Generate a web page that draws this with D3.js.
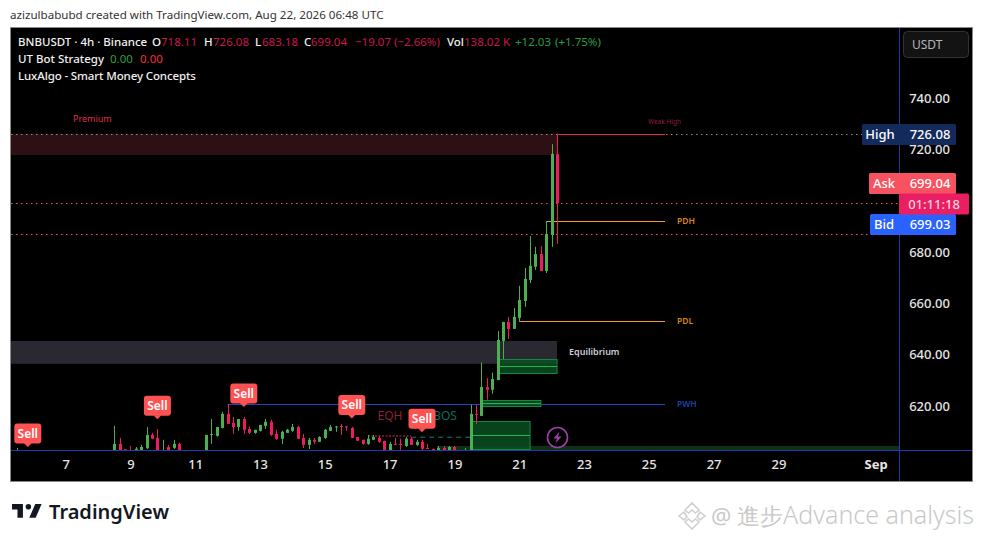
<!DOCTYPE html>
<html>
<head>
<meta charset="utf-8">
<script src="https://d3js.org/d3.v7.min.js"></script>
<style>
  html, body { margin: 0; padding: 0; background: #fff; }
  svg { display: block; }
  text { font-family: "Noto Sans", sans-serif; }
</style>
</head>
<body>
<div id="chart"></div>
<script>
// bar number (4h bars), open, high, low, close
var barNo = [0,18,19,20,21,22,23,24,25,26,27,28,29,30,35,36,37,38,39,40,41,42,43,44,45,46,47,48,49,50,51,52,53,54,55,56,57,58,59,60,61,62,63,64,65,66,67,68,69,70,71,72,73,74,75,76,77,78,79,80,81,83,84,85,86,87,88,89,90,91,92,93,94,95,96,97,98,99,100];
var opens = [600,602,605.2,603.1,602,601,601,603.5,608.7,607.5,601,604,603.65,605.2,602,608.7,608.3,611.4,616.9,613.4,611.8,614.9,611,609.5,610.3,612.2,613.8,609.1,607.2,609.5,610.3,611.8,607.5,604.8,606.8,606,607.5,610.3,611.8,612.2,612,611.4,607.9,606.8,605.2,606.8,607.5,606.4,602,605.2,605.2,604.4,607.2,604.8,606,603.6,603.2,602,603.6,602,604,601,602,616.9,616.1,627.3,626.3,630.1,645.3,652.7,650,654.3,660.9,669.1,674.2,679.2,672.6,686.6,718.11];
var highs = [603.6,612.2,607.5,603.2,604.4,604,604.8,611.8,609.5,611,606.8,604.8,606.8,605.6,608.7,614.9,611.8,617.7,620.8,615.7,614.9,615.7,612,610.7,612.6,614.9,614.6,610.7,610.3,611,613,612.2,609.1,607.5,607.5,608.2,611,612.6,612.2,613,612.2,611.8,607.9,606.8,608.7,608.7,608.3,606.4,606,607.5,607.2,607.9,607.9,606.8,606.8,605.2,603.4,604.4,604.4,604.4,604.4,603.6,620.4,620.4,636.9,630.9,633,649.2,652.8,654.7,658.2,666.8,673.8,686.2,682,682.3,692,722,726.08];
var lows = [600,601,601,601,601,601,601,603.2,607,601,601,601,603.2,601,601,605.2,608,611.2,613,609.1,610.3,609.1,609.1,609.1,610,611,608.3,606.8,605.2,609.5,609.9,607.2,603.65,603.2,605.2,606,607.2,610.3,609.9,608.7,610.3,607.5,606.4,604.8,604.8,606.8,605.6,601,601,604.8,601,604,604.8,604.4,602,603.2,602.8,601,601,601,601,601,601,613,616,622.4,624.7,630,638.3,646.1,650,653.1,658.6,667.9,673,672.6,671.8,682,683.18];
var closes = [602,605.2,602,602,601,603.3,604,608.7,607.2,602,601.5,602,605.2,602,608.7,609,611.8,616.9,613,611.8,614.9,610.7,609.5,610.7,612.6,613.8,608.7,607.2,609.9,610.7,611.8,607.2,604.8,606.8,606,607.9,610.7,611.8,612,612,611.8,607.5,606.4,605.2,607.2,607.9,606,602,605.2,605,605,607.2,604.8,606,603.3,603.4,603,603.6,602,604,602,602,616.9,616.6,627.4,626.3,630.5,645.7,652.7,650,654.7,661.3,669.5,674.6,679.2,672.6,687,718.2,699.04];

var priceTicks = [740, 720, 680, 660, 640, 620];
var timeTickBars = [9, 21, 33, 45, 57, 69, 81, 93, 105, 117, 129, 141, 159];
var timeTickLabels = ["7", "9", "11", "13", "15", "17", "19", "21", "23", "25", "27", "29", "Sep"];

var sellBars = [2, 26, 42, 62, 75];
var sellPrices = [604, 614.8, 619.6, 615.1, 609.7];

var dottedLevels = [699.04, 686.9];
var highLevel = 726.08;

var zoneNames = ["premium", "equilibrium", "discount"];
var zoneTops = [726.08, 645.3, 604.4];
var zoneBottoms = [717.8, 636.4, 602.5];

var blockStart = [84, 89, 86];
var blockEnd = [95, 100, 97];
var blockTop = [614.2, 638.2, 622.4];
var blockMid = [608.6, 635.6, 621.2];
var blockBottom = [603.4, 632.6, 620.1];

var levelNames = ["PWH", "PDH", "PDL"];
var levelPrices = [620.7, 692, 653];
var levelStart = [39, 98, 93];
var levelEnd = 120;

var svgWidth = 983;
var svgHeight = 542;

var frame = { left: 11, top: 28, right: 972, bottom: 481 };
var paneRight = 899;
var paneBottom = 451;

var svg = d3.select("#chart").append("svg")
  .attr("width", svgWidth)
  .attr("height", svgHeight);

var x = d3.scaleLinear().domain([0, 100]).range([17, 557]);
var y = d3.scaleLinear().domain([740, 620]).range([98, 405.9]);

var upColor = "#4caf50";
var downColor = "#ec1b62";

// header line
svg.append("text").attr("x", 10).attr("y", 19)
  .attr("font-size", 11.6).attr("fill", "#333")
  .text("azizulbabubd created with TradingView.com, Aug 22, 2026 06:48 UTC");

svg.append("rect")
  .attr("x", frame.left - 0.5).attr("y", frame.top - 0.5)
  .attr("width", frame.right - frame.left + 1).attr("height", frame.bottom - frame.top + 1)
  .attr("fill", "#000").attr("stroke", "#8a8a8a");

svg.append("clipPath").attr("id", "pane").append("rect")
  .attr("x", frame.left).attr("y", frame.top)
  .attr("width", paneRight - frame.left).attr("height", paneBottom - frame.top);

var pane = svg.append("g").attr("clip-path", "url(#pane)");

// premium / equilibrium / discount
var zoneColors = ["#2e0f14", "#2a2830", "#0f2f17"];
var zoneLeft = [frame.left, frame.left, 437];
var zoneRight = [x(100), x(100), paneRight];
zoneNames.forEach(function(name, i) {
  pane.append("rect")
    .attr("x", zoneLeft[i]).attr("y", y(zoneTops[i]))
    .attr("width", zoneRight[i] - zoneLeft[i])
    .attr("height", y(zoneBottoms[i]) - y(zoneTops[i]))
    .attr("fill", zoneColors[i]);
});

// dotted price lines
dottedLevels.forEach(function(p) {
  pane.append("line")
    .attr("x1", frame.left).attr("x2", paneRight)
    .attr("y1", Math.round(y(p)) + 0.5).attr("y2", Math.round(y(p)) + 0.5)
    .attr("stroke", "#f7525f").attr("stroke-dasharray", "1.5 3.5");
});
pane.append("line")
  .attr("x1", frame.left).attr("x2", paneRight)
  .attr("y1", Math.round(y(highLevel)) + 0.5).attr("y2", Math.round(y(highLevel)) + 0.5)
  .attr("stroke", "#8d8d94").attr("stroke-dasharray", "1.5 3.5");

// structure lines
var levelColors = ["#1d47c4", "#f59a1c", "#f59a1c"];
levelNames.forEach(function(name, i) {
  var ly = Math.round(y(levelPrices[i])) + 0.5;
  pane.append("line")
    .attr("x1", x(levelStart[i])).attr("x2", x(levelEnd))
    .attr("y1", ly).attr("y2", ly)
    .attr("stroke", levelColors[i]);
  svg.append("text")
    .attr("x", x(levelEnd) + 12).attr("y", ly + 2.5)
    .attr("font-size", 8.5).attr("font-weight", 600)
    .attr("fill", name == "PWH" ? "#1a44a8" : "#d9860f")
    .text(name);
});

pane.append("line")
  .attr("x1", x(100)).attr("x2", x(levelEnd))
  .attr("y1", Math.round(y(highLevel)) + 0.5).attr("y2", Math.round(y(highLevel)) + 0.5)
  .attr("stroke", "#e8294e");

// EQH and BOS
pane.append("line")
  .attr("x1", x(65)).attr("x2", x(73))
  .attr("y1", y(608.3)).attr("y2", y(608.3))
  .attr("stroke", "#8c2235").attr("stroke-width", 1.5).attr("stroke-dasharray", "2 1.5");
pane.append("line")
  .attr("x1", x(73)).attr("x2", x(84))
  .attr("y1", y(607.8)).attr("y2", y(607.8))
  .attr("stroke", "#14806a").attr("stroke-dasharray", "5 4");

// order blocks
blockStart.forEach(function(s, i) {
  var g = pane.append("g");
  g.append("rect")
    .attr("x", x(s) + 0.5).attr("y", Math.round(y(blockTop[i])) + 0.5)
    .attr("width", Math.round(x(blockEnd[i]) - x(s)))
    .attr("height", Math.round(y(blockBottom[i]) - y(blockTop[i])))
    .attr("fill", "#0a4f22").attr("fill-opacity", 0.85)
    .attr("stroke", "#128a3e");
  g.append("line")
    .attr("x1", x(s)).attr("x2", x(blockEnd[i]))
    .attr("y1", Math.round(y(blockMid[i])) + 0.5).attr("y2", Math.round(y(blockMid[i])) + 0.5)
    .attr("stroke", "#1bb552");
});

// candles
var candles = barNo.map(function(n, i) {
  return { n: n, o: opens[i], h: highs[i], l: lows[i], c: closes[i] };
});

var candle = pane.selectAll("g.candle").data(candles).enter().append("g")
  .attr("class", "candle");

candle.append("line")
  .attr("x1", d => Math.round(x(d.n)) + 0.5)
  .attr("x2", d => Math.round(x(d.n)) + 0.5)
  .attr("y1", d => y(d.h))
  .attr("y2", d => y(d.l))
  .attr("stroke", d => d.c >= d.o ? upColor : downColor);

candle.append("rect")
  .attr("x", d => Math.round(x(d.n)) - 1)
  .attr("width", 3)
  .attr("y", d => y(Math.max(d.o, d.c)))
  .attr("height", d => Math.max(1, Math.abs(y(d.o) - y(d.c))))
  .attr("fill", d => d.c >= d.o ? upColor : downColor);

// price axis
var priceAxis = d3.axisRight(y).tickValues(priceTicks).tickSize(0)
  .tickFormat(d3.format(".2f"));
var priceG = svg.append("g")
  .attr("transform", "translate(" + paneRight + ",0)")
  .call(priceAxis);
priceG.select(".domain").remove();
priceG.selectAll("text")
  .attr("x", 30.5).attr("text-anchor", "middle")
  .attr("font-size", 13).attr("font-family", "Noto Sans").attr("font-weight", 500).attr("fill", "#e6e6e6");

// time axis
var timeAxis = d3.axisBottom(x).tickValues(timeTickBars).tickSize(0)
  .tickFormat(function(d) { return timeTickLabels[timeTickBars.indexOf(d)]; });
var timeG = svg.append("g")
  .attr("transform", "translate(0," + paneBottom + ")")
  .call(timeAxis);
timeG.select(".domain").remove();
timeG.selectAll("text")
  .attr("y", 9)
  .attr("font-size", 13).attr("font-family", "Noto Sans").attr("fill", "#e6e6e6")
  .attr("font-weight", d => d == 159 ? 700 : 500);

// separators
svg.append("line")
  .attr("x1", paneRight + 0.5).attr("x2", paneRight + 0.5)
  .attr("y1", frame.top).attr("y2", frame.bottom)
  .attr("stroke", "#1c3d9e");
svg.append("line")
  .attr("x1", frame.left).attr("x2", frame.right)
  .attr("y1", paneBottom - 0.5).attr("y2", paneBottom - 0.5)
  .attr("stroke", "#1c3fb0");

// zone and structure text
function note(tx, ty, txt, size, color, anchor, weight) {
  return svg.append("text")
    .attr("x", tx).attr("y", ty)
    .attr("font-size", size).attr("fill", color)
    .attr("text-anchor", anchor || "start")
    .attr("font-weight", weight || 400)
    .text(txt);
}
note(73, 122, "Premium", 9, "#dc3045");
note(569, 355, "Equilibrium", 9, "#cfcfd8", "start", 600);
note(648, 124, "Weak High", 6.5, "#8f1f3d");
note(390, 420, "EQH", 12, "#8c2235", "middle");
note(445, 420, "BOS", 12, "#0e6b5c", "middle");

// Sell labels
sellBars.forEach(function(b, i) {
  var tipX = x(b) , tipY = y(sellPrices[i]);
  var g = svg.append("g");
  g.append("rect")
    .attr("x", tipX - 13.5).attr("y", tipY - 23.5)
    .attr("width", 27).attr("height", 20).attr("rx", 3)
    .attr("fill", "#ff5252");
  g.append("path")
    .attr("d", d3.line()([[tipX - 4, tipY - 4], [tipX + 4, tipY - 4], [tipX, tipY]]))
    .attr("fill", "#ff5252");
  g.append("text")
    .attr("x", tipX).attr("y", tipY - 9)
    .attr("text-anchor", "middle").attr("font-size", 12).attr("font-weight", 600)
    .attr("fill", "#fff").text("Sell");
});

// lightning badge
var badge = svg.append("g").attr("transform", "translate(557.5,437.5)");
badge.append("circle").attr("r", 10).attr("fill", "#000")
  .attr("stroke", "#9c3fa8").attr("stroke-width", 1.6);
badge.append("path")
  .attr("d", "M2,-6 L-4,1 L-0.5,1 L-2,6 L4,-1 L0.5,-1 Z")
  .attr("fill", "#9c3fa8");

// legend
function legend(row, items) {
  items.forEach(function(it) {
    svg.append("text")
      .attr("x", it[0]).attr("y", row)
      .attr("font-size", 11.5).attr("fill", it[2])
      .attr("font-weight", it[2] == white ? 500 : 400)
      .attr("letter-spacing", it[1].length > 24 ? -0.12 : 0)
      .text(it[1]);
  });
}
var white = "#f0f0f0", red = "#c8174f", green = "#2e9e44";
legend(46, [
  [18, "BNBUSDT · 4h · Binance", white],
  [152, "O", white], [161, "718.11", red],
  [204, "H", white], [213, "726.08", red],
  [255, "L", white], [262, "683.18", red],
  [304, "C", white], [311, "699.04", red],
  [355, "−19.07", red], [394, "(−2.66%)", red],
  [447, "Vol", white], [464, "138.02 K", red],
  [515, "+12.03", green], [555, "(+1.75%)", green]
]);
legend(63, [
  [18, "UT Bot Strategy", white],
  [110, "0.00", green], [140, "0.00", "#f0303c"]
]);
legend(80, [[18, "LuxAlgo - Smart Money Concepts", white]]);

// USDT button
svg.append("rect")
  .attr("x", 903.5).attr("y", 31.5).attr("width", 65).attr("height", 26).attr("rx", 4)
  .attr("fill", "#131313").attr("stroke", "#333");
note(912, 49, "USDT", 12, "#b2b5be");

// price tags
function tag(tx, ty, tw, color) {
  svg.append("rect")
    .attr("x", tx).attr("y", ty).attr("width", tw).attr("height", 21)
    .attr("rx", 1.5).attr("fill", color);
}
tag(862, 124, 94, "#132a5c");
tag(869, 173, 87, "#f7525f");
tag(870, 214, 86, "#2962ff");
tag(899, 193.5, 70, "#e91e63");
note(880, 139, "High", 13, "#fff", "middle", 500);
note(930, 139, "726.08", 13, "#fff", "middle", 500);
note(884, 188, "Ask", 13, "#fff", "middle", 500);
note(930, 188, "699.04", 13, "#fff", "middle", 500);
note(934, 208.5, "01:11:18", 13, "#ffd3de", "middle", 500);
note(884, 229, "Bid", 13, "#fff", "middle", 500);
note(930, 229, "699.03", 13, "#fff", "middle", 500);

// TradingView logo
var logo = svg.append("g").attr("transform", "translate(10.2,498.6) scale(0.91)");
logo.append("path")
  .attr("d", "M14 6H2v6h6v9h6V6Zm14 15h-7l6.5-15h7L28 21Z")
  .attr("fill", "#131722");
logo.append("circle").attr("cx", 20).attr("cy", 9).attr("r", 3).attr("fill", "#131722");
note(49, 519, "TradingView", 20, "#131722", "start", 600);

// watermark
var wm = svg.append("g").attr("transform", "translate(692,516)")
  .attr("fill", "none").attr("stroke", "#cfcfcf").attr("stroke-width", 1.6);
wm.append("path").attr("d", "M0,-13 L7,-6 L3.5,-3 L0,-6 L-3.5,-3 L-7,-6 Z");
wm.append("path").attr("d", "M-8,-4 L-13,0 L-8,4 L-5,1 Z");
wm.append("path").attr("d", "M8,-4 L13,0 L8,4 L5,1 Z");
wm.append("path").attr("d", "M0,13 L-7,6 L-3.5,3 L0,6 L3.5,3 L7,6 Z");
var wmText = svg.append("text")
  .attr("x", 711).attr("y", 524)
  .attr("font-size", 22.5).attr("fill", "#c9c9c9")
  .attr("font-family", "'Noto Sans', 'Noto Sans CJK TC', sans-serif");
wmText.append("tspan").text("@ 進步");
wmText.append("tspan").attr("font-size", 25).attr("font-weight", 300).text("Advance analysis");
</script>
</body>
</html>
